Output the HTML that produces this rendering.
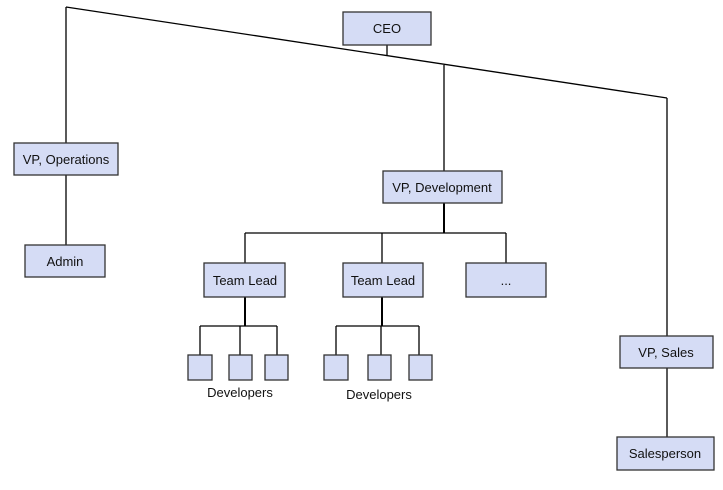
<!DOCTYPE html>
<html><head><meta charset="utf-8"><style>
body{margin:0;background:#fff;width:723px;height:485px;overflow:hidden;}
</style></head><body>
<svg width="723" height="485" xmlns="http://www.w3.org/2000/svg" font-family="Liberation Sans, sans-serif" font-size="13" fill="#111">
<g stroke="#000" stroke-width="1.3" fill="none">
<line x1="66" y1="7" x2="667" y2="98"/>
<line x1="66" y1="7" x2="66" y2="143"/>
<line x1="66" y1="175" x2="66" y2="245"/>
<line x1="387" y1="45" x2="387" y2="56"/>
<line x1="444" y1="65" x2="444" y2="171"/>
<line x1="667" y1="98" x2="667" y2="336"/>
<line x1="667" y1="368" x2="667" y2="437"/>
<line x1="444" y1="203" x2="444" y2="233" stroke-width="2"/>
<line x1="245" y1="233" x2="506" y2="233"/>
<line x1="245" y1="233" x2="245" y2="263"/>
<line x1="382" y1="233" x2="382" y2="263"/>
<line x1="506" y1="233" x2="506" y2="263"/>
<line x1="245" y1="297" x2="245" y2="326" stroke-width="2"/>
<line x1="200" y1="326" x2="277" y2="326"/>
<line x1="200" y1="326" x2="200" y2="355"/>
<line x1="240" y1="326" x2="240" y2="355"/>
<line x1="277" y1="326" x2="277" y2="355"/>
<line x1="382" y1="297" x2="382" y2="326" stroke-width="2"/>
<line x1="336" y1="326" x2="419" y2="326"/>
<line x1="336" y1="326" x2="336" y2="355"/>
<line x1="381" y1="326" x2="381" y2="355"/>
<line x1="419" y1="326" x2="419" y2="355"/>
</g>
<g fill="#d5dcf5" stroke="#333" stroke-width="1.3">
<rect x="343" y="12" width="88" height="33"/>
<rect x="14" y="143" width="104" height="32"/>
<rect x="25" y="245" width="80" height="32"/>
<rect x="383" y="171" width="119" height="32"/>
<rect x="204" y="263" width="81" height="34"/>
<rect x="343" y="263" width="80" height="34"/>
<rect x="466" y="263" width="80" height="34"/>
<rect x="620" y="336" width="93" height="32"/>
<rect x="617" y="437" width="97" height="33"/>
<rect x="188" y="355" width="24" height="25"/>
<rect x="229" y="355" width="23" height="25"/>
<rect x="265" y="355" width="23" height="25"/>
<rect x="324" y="355" width="24" height="25"/>
<rect x="368" y="355" width="23" height="25"/>
<rect x="409" y="355" width="23" height="25"/>
</g>
<g text-anchor="middle">
<text x="387" y="33">CEO</text>
<text x="66" y="164">VP, Operations</text>
<text x="65" y="266">Admin</text>
<text x="442" y="192">VP, Development</text>
<text x="245" y="285">Team Lead</text>
<text x="383" y="285">Team Lead</text>
<text x="506" y="285">...</text>
<text x="666" y="357">VP, Sales</text>
<text x="665" y="458">Salesperson</text>
<text x="240" y="397">Developers</text>
<text x="379" y="399">Developers</text>
</g>
</svg>
</body></html>
